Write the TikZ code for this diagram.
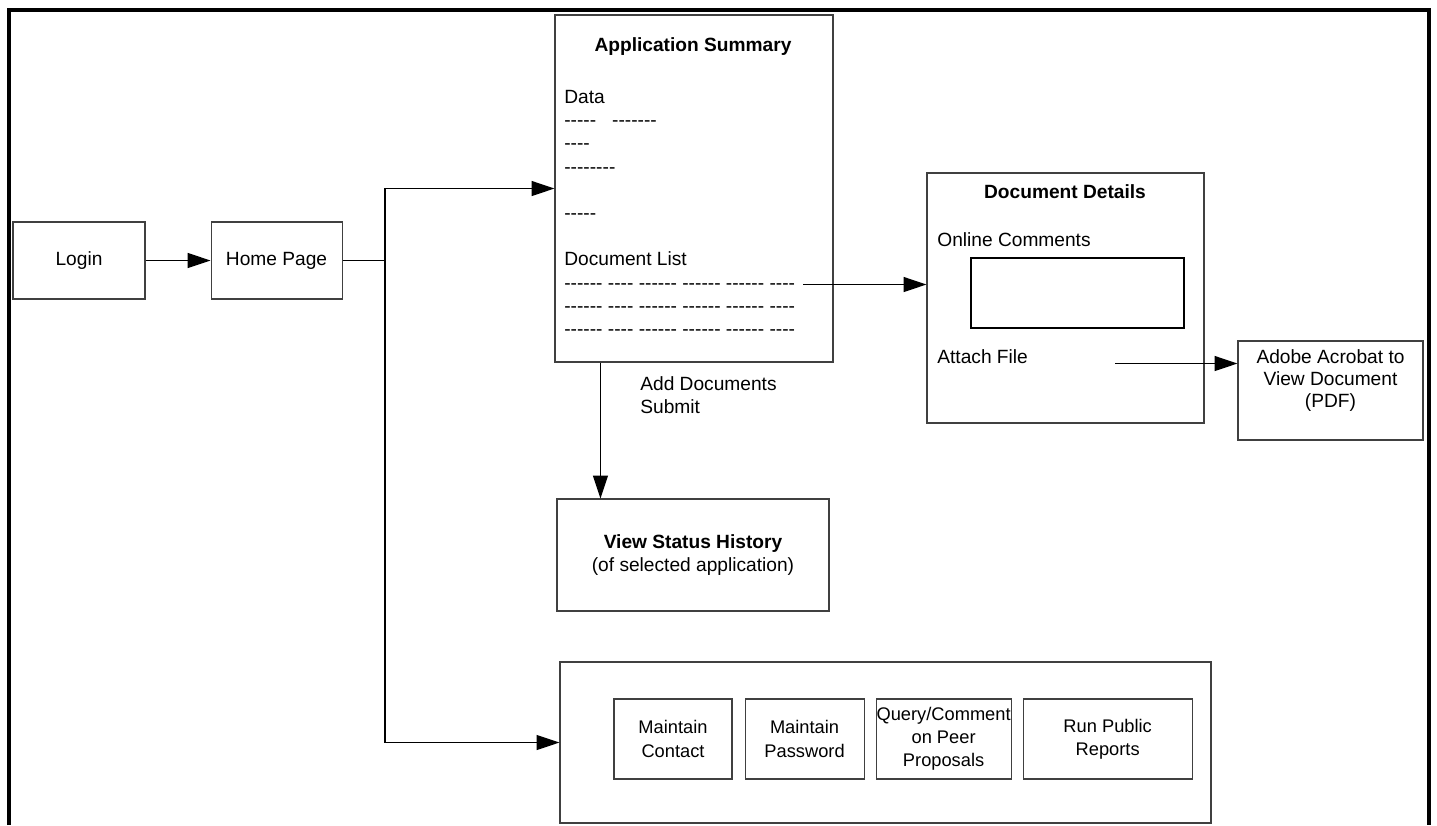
\documentclass[tikz,border=0pt]{standalone}
\usepackage{fontspec}
\setmainfont{Liberation Sans}[Ligatures=TeXOff]
\usetikzlibrary{arrows.meta,positioning,calc}

\tikzset{
	>={Triangle[length=13pt,width=8.5pt]},
}

\begin{document}
\begin{tikzpicture}
	[font=\fontsize{10.9}{13.2}\selectfont,
		% STYLES
		% The screen style is used to draw every page of the site
		screen/.style={rectangle, draw=black!75, line width=0.6pt, inner sep=2pt,
				align=center},
		% The pagetext style is used for the lines written inside a page
		pagetext/.style={inner sep=0pt, anchor=north west, align=left},
		% The heading style is used for the bold title of a page
		heading/.style={inner sep=0pt, font=\fontsize{10.9}{13.2}\selectfont\bfseries},
		% The tool style is used for the small boxes of the last page
		tool/.style={screen, minimum height=1.6cm, inner sep=0pt,
				font=\fontsize{10.4}{13.2}\selectfont},
		link/.style={->, line width=0.7pt}]

	\useasboundingbox (0,0) rectangle (28.74,-16.5);

	% Frame, open at the bottom
	\draw [line width=2.3pt] (0.18,-16.5) -- (0.18,-0.2) -- (28.58,-0.2) -- (28.58,-16.5);

	% Entry pages
	\node [screen, minimum width=2.64cm, minimum height=1.54cm] (login) at (1.58,-5.21) {Login};
	\node [screen, minimum width=2.62cm, minimum height=1.54cm, right=1.3cm of login] (home) {Home Page};

	% APPLICATION SUMMARY
	\node [screen, minimum width=5.56cm, minimum height=6.94cm] (summary) at (13.88,-3.77) {};
	\node [heading] at (13.86,-0.94) {Application Summary};
	\node [pagetext] (data) at (11.28,-1.80) {Data\\
			-----\ \ \ -------\\
			----\\
			--------\\[13.2pt]
			-----\\[13.2pt]
			Document List\\
			------ ---- ------ ------ ------ ----\\
			------ ---- ------ ------ ------ ----\\
			------ ---- ------ ------ ------ ----};
	\coordinate (listend) at (16.06,-5.69);

	% DOCUMENT DETAILS
	\node [screen, minimum width=5.54cm, minimum height=5cm] (details) at (21.31,-5.96) {};
	\node [heading] at (21.3,-3.84) {Document Details};
	\node [pagetext] at (18.74,-4.64) {Online Comments};
	\node [draw, line width=1.1pt, minimum width=4.26cm, minimum height=1.4cm] (comments) at (21.55,-5.86) {};
	\node [pagetext] at (18.74,-6.98) {Attach File};
	\coordinate (attach) at (22.3,-7.27);

	\node [screen, minimum width=3.7cm, minimum height=1.98cm] (acrobat) at (26.61,-7.81) {};
	\node [align=center, inner sep=0pt, font=\fontsize{10.9}{12.3}\selectfont] (acrobattext)
	at ([yshift=0.2cm]acrobat.center) {Adobe Acrobat to\\ View Document\\ (PDF)};

	% STATUS HISTORY
	\node [pagetext] (adddocs) at (12.8,-7.52) {Add Documents\\ Submit};
	\node [screen, minimum width=5.44cm, minimum height=2.24cm] (status) at (13.86,-11.1)
	{\textbf{View Status History}\\ (of selected application)};

	% ACCOUNT TOOLS
	\node [screen, minimum width=13.02cm, minimum height=3.22cm] (tools) at (17.71,-14.85) {};
	\node [tool, minimum width=2.36cm] (contact) at (13.46,-14.78) {Maintain\\ Contact};
	\node [tool, minimum width=2.38cm, right=0.24cm of contact] (password) {Maintain\\ Password};
	\node [tool, minimum width=2.7cm, right=0.22cm of password] (query) {Query/Comment\\ on Peer\\ Proposals};
	\node [tool, minimum width=3.38cm, right=0.22cm of query] (reports) {Run Public\\ Reports};

	% Links between the pages
	\coordinate (trunk) at (7.7,0);
	\path [link] (login) edge (home);
	\draw [link] (home.east) -- (home.east -| trunk) |- (summary.west);
	\draw [link] (home.east -| trunk) |- (tools.west);
	\draw [link] (listend) -- (listend -| details.west);
	\draw [link] (attach) -- (attach -| acrobat.west);
	\draw [link] ([xshift=0.92cm]summary.south west) -- ([xshift=0.92cm]summary.south west |- status.north);

\end{tikzpicture}
\end{document}
